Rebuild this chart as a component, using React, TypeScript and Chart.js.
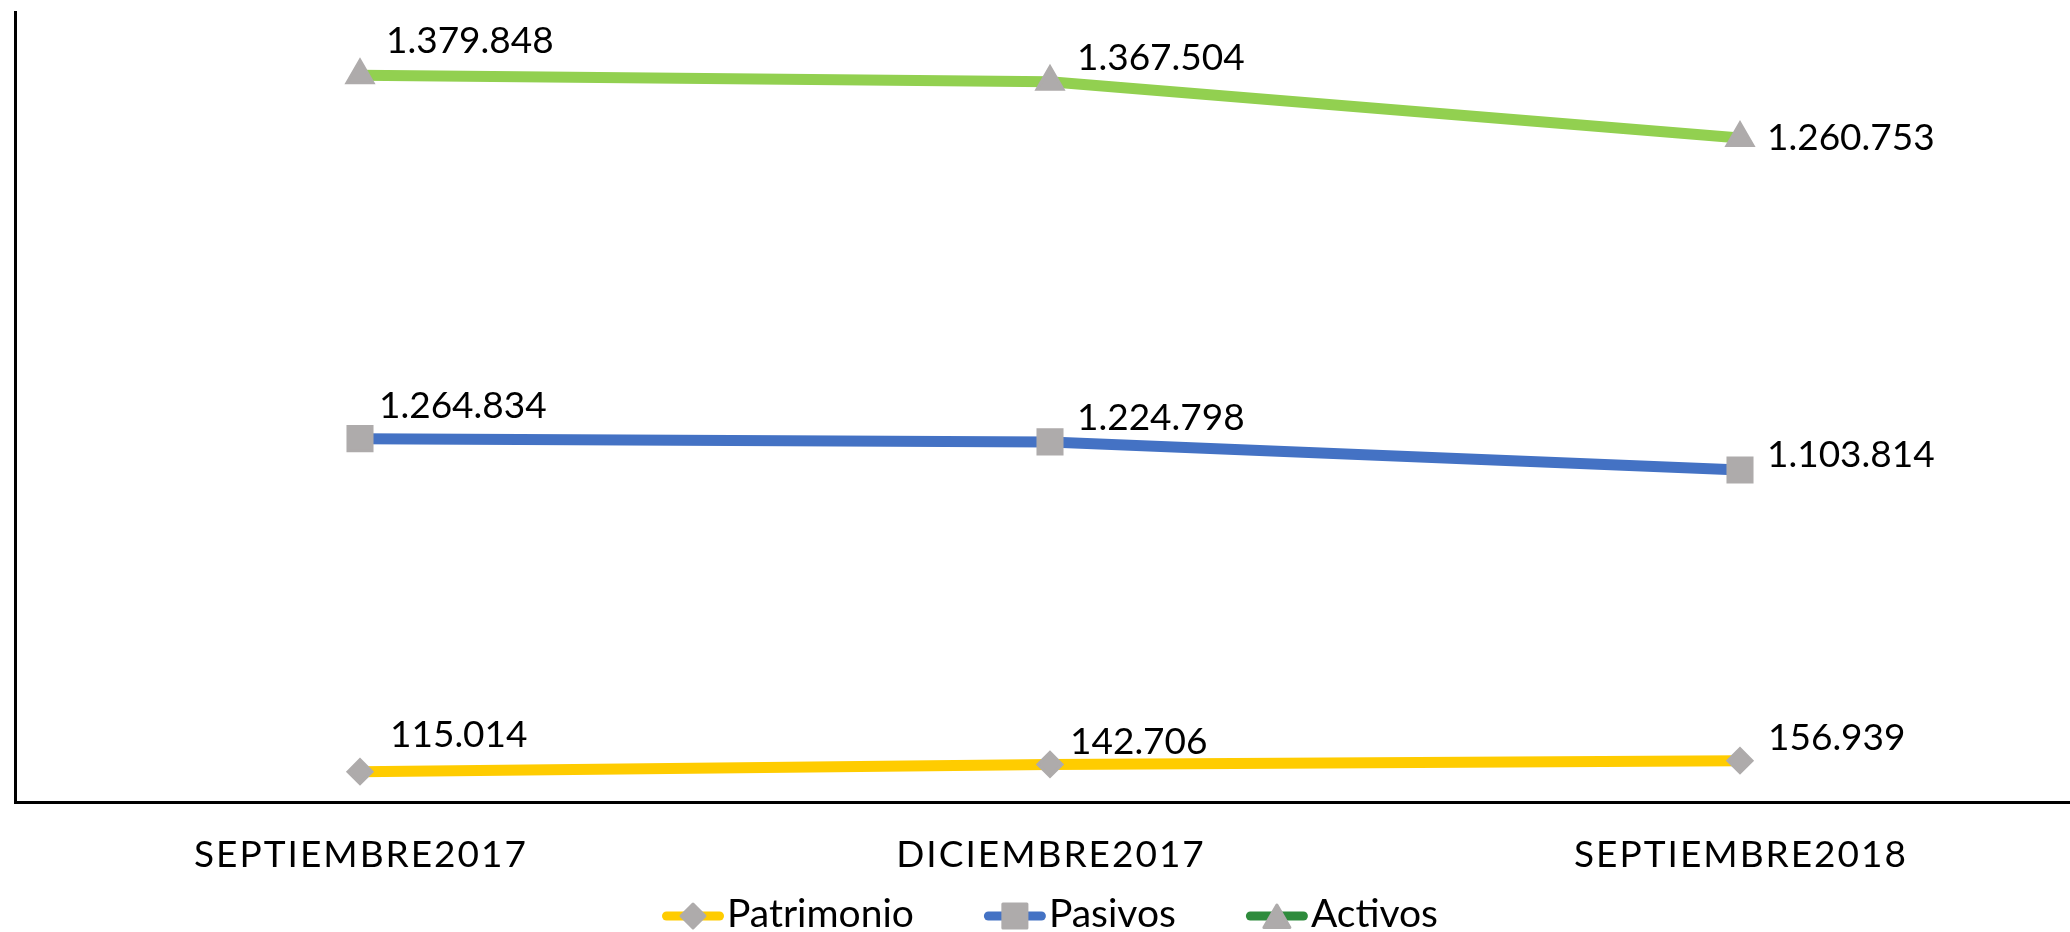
import React, { useEffect, useRef } from 'react';
import { Chart, registerables } from 'chart.js';
import { drawPoint } from 'chart.js/helpers';

Chart.register(...registerables);

// ---- data ----
const categories = ['SEPTIEMBRE2017', 'DICIEMBRE2017', 'SEPTIEMBRE2018'];
const seriesNames = ['Patrimonio', 'Pasivos', 'Activos'];
const patrimonio = [115014, 142706, 156939];
const pasivos = [1264834, 1224798, 1103814];
const activos = [1379848, 1367504, 1260753];
const yMin = 0;
const yMax = 3000000;

// ---- styles ----
const lineColors = ['#FFCC00', '#4472C4', '#92D050'];
const legendLineColors = ['#FFCC00', '#4472C4', '#2E8B3C'];
const markerStyles = ['rectRot', 'rect', 'triangle'];
const markerRadii = [12, 17, 15];
const markerColor = '#AEABAB';
const FONT = '37px Lato, "Liberation Sans", sans-serif';
const LEGEND_FONT = '39px Lato, "Liberation Sans", sans-serif';
// label nudges [dx, dy] per dataset / point (layout only)
const labelOffsets = [
  [[30, -25], [20, -10], [28, -11]],
  [[19, -21], [27, -12], [27, -3]],
  [[26, -22], [27, -12], [27, 12]],
];

const fmt = (v: number) => String(v).replace(/\B(?=(\d{3})+(?!\d))/g, '.');

const overlayPlugin = {
  id: 'overlay',
  afterDraw(chart: any) {
    const ctx = chart.ctx as CanvasRenderingContext2D;
    const area = chart.chartArea;
    ctx.save();
    ctx.font = FONT;
    ctx.fillStyle = '#000';
    ctx.textBaseline = 'alphabetic';

    // data labels
    chart.data.datasets.forEach((ds: any, di: number) => {
      const meta = chart.getDatasetMeta(di);
      meta.data.forEach((pt: any, i: number) => {
        const [dx, dy] = labelOffsets[di][i];
        ctx.textAlign = 'left';
        ctx.fillText(fmt(ds.data[i]), pt.x + dx, pt.y + dy);
      });
    });

    // category labels
    const xs = chart.scales.x;
    (ctx as any).letterSpacing = '2px';
    ctx.textAlign = 'center';
    categories.forEach((c, i) => {
      ctx.fillText(c, xs.getPixelForValue(i) + 1, area.bottom + 65);
    });
    (ctx as any).letterSpacing = '0px';

    // legend
    ctx.font = LEGEND_FONT;
    const lineLen = 62;
    const textGap = 3;
    const itemGap = 70;
    const widths = seriesNames.map((n) => ctx.measureText(n).width);
    const total = widths.reduce((a, w) => a + lineLen + textGap + w, 0) + itemGap * (seriesNames.length - 1);
    let x = (area.left + area.right) / 2 - total / 2;
    const y = area.bottom + 114;
    seriesNames.forEach((name, k) => {
      ctx.strokeStyle = legendLineColors[k];
      ctx.lineWidth = 9;
      ctx.lineCap = 'round';
      ctx.beginPath();
      ctx.moveTo(x + 4.5, y);
      ctx.lineTo(x + lineLen - 4.5, y);
      ctx.stroke();
      ctx.fillStyle = markerColor;
      ctx.strokeStyle = markerColor;
      ctx.lineWidth = 3;
      ctx.lineJoin = 'round';
      drawPoint(ctx, { pointStyle: markerStyles[k], radius: markerRadii[k], borderWidth: 3, rotation: 0 } as any, x + lineLen / 2, y + (markerStyles[k] === 'triangle' ? 4 : 0));
      ctx.fillStyle = '#000';
      ctx.textAlign = 'left';
      ctx.fillText(name, x + lineLen + textGap, y + 11);
      x += lineLen + textGap + widths[k] + itemGap;
    });
    ctx.restore();
  },
};

export default function App() {
  const canvasRef = useRef<HTMLCanvasElement | null>(null);

  useEffect(() => {
    if (!canvasRef.current) return;
    const series = [patrimonio, pasivos, activos];
    const chart = new Chart(canvasRef.current, {
      type: 'line',
      data: {
        labels: categories,
        datasets: series.map((d, k) => ({
          label: seriesNames[k],
          data: d,
          borderColor: lineColors[k],
          backgroundColor: lineColors[k],
          borderWidth: 11,
          tension: 0,
          fill: false,
          borderCapStyle: 'round',
          borderJoinStyle: 'round',
          pointStyle: markerStyles[k] as any,
          pointRadius: markerRadii[k],
          pointBackgroundColor: markerColor,
          pointBorderColor: markerColor,
          pointBorderWidth: 3,
        })),
      },
      options: {
        responsive: false,
        animation: false,
        events: [],
        layout: { autoPadding: false, padding: { left: 15, right: 15, top: 12, bottom: 130 } },
        plugins: { legend: { display: false }, tooltip: { enabled: false } },
        scales: {
          x: {
            offset: true,
            grid: { display: false, drawTicks: false },
            ticks: { display: false },
            border: { display: true, color: '#000', width: 3 },
          },
          y: {
            stacked: true,
            min: yMin,
            max: yMax,
            grid: { display: false, drawTicks: false },
            ticks: { display: false },
            border: { display: true, color: '#000', width: 3 },
          },
        },
      } as any,
      plugins: [overlayPlugin],
    });
    return () => chart.destroy();
  }, []);

  return (
    <div style={{ position: 'fixed', left: 0, top: 0, width: '2070px', height: '932px', overflow: 'hidden', background: '#fff' }}>
      <canvas ref={canvasRef} width={2100} height={932} style={{ display: 'block' }} />
    </div>
  );
}
